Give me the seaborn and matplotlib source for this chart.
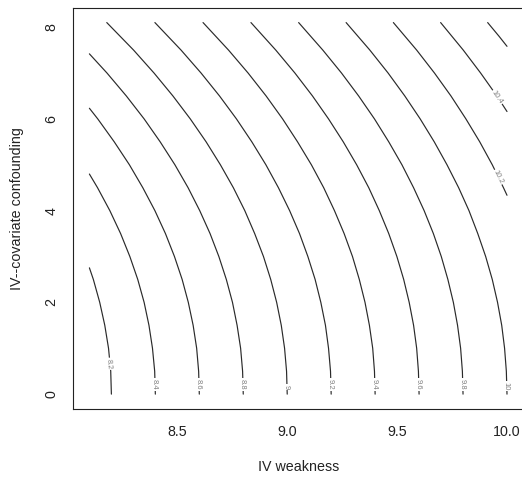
import pandas as pd
import matplotlib
matplotlib.use("Agg")
import matplotlib.pyplot as plt
import seaborn as sns

# contour levels and the points of each line
levels = [8.2, 8.4, 8.6, 8.8, 9.0, 9.2, 9.4, 9.6, 9.8, 10.0, 10.2, 10.4, 10.6]
level_text = ["8.2", "8.4", "8.6", "8.8", "9", "9.2", "9.4", "9.6", "9.8", "10", "10.2", "10.4", ""]

y_full = [0, 0.5, 1, 1.5, 2, 2.5, 3, 3.5, 4, 4.5, 5, 5.5, 6, 6.5, 7, 7.5, 8.1]

line_y = {
    8.2: [0, 0.5, 1, 1.5, 2, 2.5, 2.753],
    8.4: [0, 0.5, 1, 1.5, 2, 2.5, 3, 3.5, 4, 4.5, 4.798],
    8.6: [0, 0.5, 1, 1.5, 2, 2.5, 3, 3.5, 4, 4.5, 5, 5.5, 6, 6.232],
    8.8: [0, 0.5, 1, 1.5, 2, 2.5, 3, 3.5, 4, 4.5, 5, 5.5, 6, 6.5, 7, 7.418],
    9.0: y_full,
    9.2: y_full,
    9.4: y_full,
    9.6: y_full,
    9.8: y_full,
    10.0: y_full,
    10.2: [4.335, 4.5, 5, 5.5, 6, 6.5, 7, 7.5, 8.1],
    10.4: [6.161, 6.5, 7, 7.5, 8.1],
    10.6: [7.582, 7.8, 8.1],
}
line_x = {
    8.2: [8.200, 8.197, 8.187, 8.170, 8.147, 8.118, 8.100],
    8.4: [8.400, 8.397, 8.387, 8.371, 8.349, 8.320, 8.284, 8.242, 8.193, 8.137, 8.100],
    8.6: [8.600, 8.597, 8.588, 8.572, 8.550, 8.522, 8.487, 8.446, 8.398, 8.343, 8.282,
          8.213, 8.138, 8.100],
    8.8: [8.800, 8.797, 8.788, 8.772, 8.751, 8.723, 8.689, 8.649, 8.602, 8.549, 8.489,
          8.422, 8.349, 8.268, 8.180, 8.100],
    9.0: [9.000, 8.997, 8.988, 8.973, 8.952, 8.925, 8.892, 8.852, 8.807, 8.755, 8.696,
          8.631, 8.559, 8.480, 8.394, 8.301, 8.179],
    9.2: [9.200, 9.197, 9.188, 9.174, 9.153, 9.127, 9.094, 9.056, 9.011, 8.960, 8.903,
          8.839, 8.769, 8.692, 8.608, 8.517, 8.398],
    9.4: [9.400, 9.397, 9.389, 9.374, 9.354, 9.328, 9.297, 9.259, 9.215, 9.166, 9.110,
          9.047, 8.979, 8.904, 8.822, 8.733, 8.617],
    9.6: [9.600, 9.597, 9.589, 9.575, 9.555, 9.530, 9.499, 9.462, 9.419, 9.371, 9.316,
          9.255, 9.188, 9.115, 9.035, 8.948, 8.835],
    9.8: [9.800, 9.797, 9.789, 9.775, 9.756, 9.731, 9.701, 9.665, 9.623, 9.575, 9.522,
          9.462, 9.397, 9.325, 9.247, 9.162, 9.052],
    10.0: [10.000, 9.997, 9.989, 9.976, 9.957, 9.933, 9.903, 9.867, 9.827, 9.780, 9.727,
           9.669, 9.605, 9.535, 9.459, 9.376, 9.268],
    10.2: [10.000, 9.984, 9.933, 9.876, 9.813, 9.745, 9.670, 9.589, 9.483],
    10.4: [10.000, 9.954, 9.880, 9.801, 9.698],
    10.6: [10.000, 9.964, 9.912],
}

rows = []
for lev in levels:
    for xv, yv in zip(line_x[lev], line_y[lev]):
        rows.append({"level": lev, "x": xv, "y": yv})
df = pd.DataFrame(rows)

# where R put the in-line labels (x, y, angle)
label_place = [
    (8.189, 0.66, -85), (8.396, 0.21, -90), (8.596, 0.21, -90), (8.797, 0.21, -90),
    (8.996, 0.15, -90), (9.196, 0.21, -90), (9.396, 0.21, -90), (9.597, 0.21, -90),
    (9.797, 0.21, -90), (9.997, 0.18, -90), (9.960, 4.73, -64), (9.955, 6.47, -56),
]

sns.set_style("white")
plt.rcParams["font.family"] = ["Liberation Sans", "DejaVu Sans"]

fig = plt.figure(figsize=(5.22, 4.79), dpi=100)
ax = fig.add_axes([72.7 / 522, 70 / 479, 451 / 522, 401.3 / 479])

sns.lineplot(data=df, x="x", y="y", units="level", estimator=None, sort=False,
             color="#2a2a2a", linewidth=0.85, ax=ax, legend=False)

for txt, (lx, ly, rot) in zip(level_text, label_place):
    ax.text(lx, ly, txt, rotation=rot, rotation_mode="anchor", ha="center", va="center",
            fontsize=5.5, color="#808080",
            bbox=dict(facecolor="white", edgecolor="none", pad=0.6))

ax.set_xlim(8.024, 10.076)
ax.set_ylim(-0.324, 8.424)
ax.set_xticks([8.5, 9.0, 9.5, 10.0])
ax.set_xticklabels(["8.5", "9.0", "9.5", "10.0"])
ax.set_yticks([0, 2, 4, 6, 8])
ax.set_yticklabels(["0", "2", "4", "6", "8"])

for sp in ax.spines.values():
    sp.set_color("#222222")
    sp.set_linewidth(0.8)

ax.tick_params(axis="both", direction="out", length=5.4, width=0.8, color="#222222",
               labelsize=10.3, labelcolor="#222222")
ax.tick_params(axis="x", pad=6.0)
ax.tick_params(axis="y", pad=4.8)
plt.setp(ax.get_yticklabels(), rotation=90, va="center")

ax.set_xlabel("IV weakness", fontsize=10.3, color="#222222", labelpad=15.5)
ax.set_ylabel("IV--covariate confounding", fontsize=10.3, color="#222222", labelpad=15.0)

fig.savefig("out.png", dpi=100)
